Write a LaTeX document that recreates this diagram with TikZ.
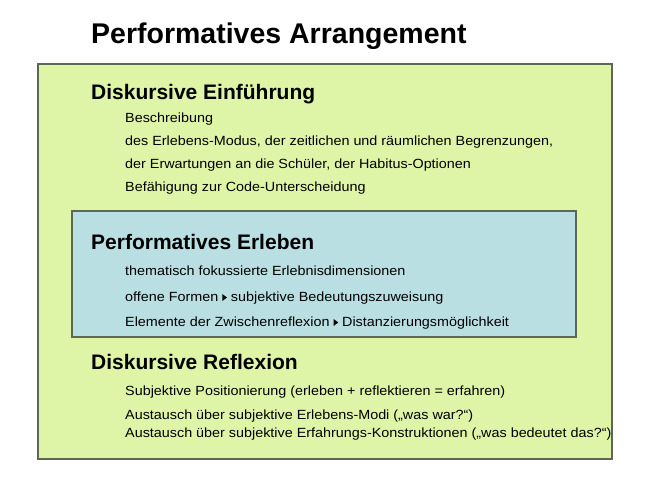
\documentclass[tikz,border=0pt]{standalone}
\usepackage{fontspec}
\setmainfont{Liberation Sans}
\newfontfamily\bodyfont[FakeStretch=1.08]{Liberation Sans}
\definecolor{boxgreen}{RGB}{222,245,168}
\definecolor{boxblue}{RGB}{185,223,227}
\definecolor{boxedge}{RGB}{94,104,80}
\tikzset{
  panel/.style={draw=boxedge, line width=1.5pt},
  titletext/.style={anchor=base west, inner sep=0pt, font=\bfseries\fontsize{28.5}{28.5}\selectfont},
  headtext/.style={anchor=base west, inner sep=0pt, font=\bfseries\fontsize{21}{21}\selectfont},
  bodytext/.style={anchor=base west, inner sep=0pt, font=\bodyfont\fontsize{13.3}{13.3}\selectfont},
}
\newcommand{\tri}{\tikz[x=1pt,y=1pt,baseline=0pt]\fill[black] (0,0)--(0,7)--(4.6,3.5)--cycle;}
\begin{document}
\begin{tikzpicture}[x=1pt,y=-1pt]
\useasboundingbox (0,0) rectangle (645,485);
\fill[white] (0,0) rectangle (645,485);
\node[titletext] (title) at (91,43) {Performatives Arrangement};
\filldraw[panel, fill=boxgreen] (38,64) rectangle (612,459);
\filldraw[panel, fill=boxblue] (72,211) rectangle (576,337);
\node[headtext] (h1) at (91,99) {Diskursive Einführung};
\node[bodytext] (a1) at (125,122) {Beschreibung};
\node[bodytext] (a2) at (125,145) {des Erlebens-Modus, der zeitlichen und räumlichen Begrenzungen,};
\node[bodytext] (a3) at (125,168) {der Erwartungen an die Schüler, der Habitus-Optionen};
\node[bodytext] (a4) at (125,191) {Befähigung zur Code-Unterscheidung};
\node[headtext] (h2) at (91,249) {Performatives Erleben};
\node[bodytext] (b1) at (125,275) {thematisch fokussierte Erlebnisdimensionen};
\node[bodytext] (b2) at (125,301) {offene Formen \tri\ subjektive Bedeutungszuweisung};
\node[bodytext] (b3) at (125,326) {Elemente der Zwischenreflexion \tri\ Distanzierungsmöglichkeit};
\node[headtext] (h3) at (91,369) {Diskursive Reflexion};
\node[bodytext] (c1) at (125,395) {Subjektive Positionierung (erleben + reflektieren = erfahren)};
\node[bodytext] (c2) at (125,419) {Austausch über subjektive Erlebens-Modi („was war?“)};
\node[bodytext] (c3) at (125,437) {Austausch über subjektive Erfahrungs-Konstruktionen („was bedeutet das?“)};
\end{tikzpicture}
\end{document}
